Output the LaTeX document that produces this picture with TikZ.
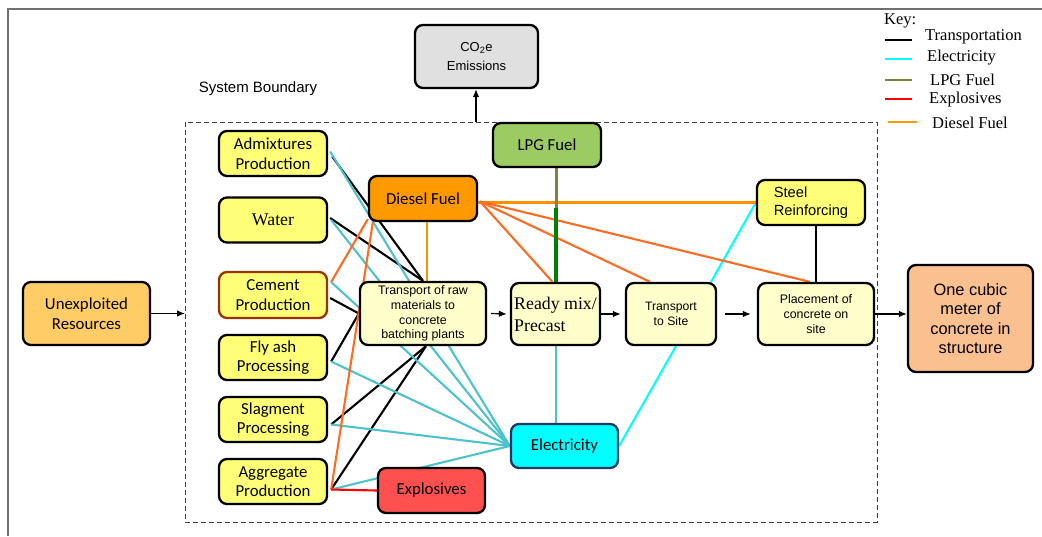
\documentclass[tikz,border=0pt]{standalone}
\usepackage{fontspec}
\setmainfont{Liberation Serif}
\newfontfamily\calib{Carlito}
\newfontfamily\ari{Liberation Sans}
\usetikzlibrary{calc,arrows.meta}
\pgfdeclarelayer{bg}
\pgfsetlayers{bg,main}
\definecolor{rawY}{HTML}{FFFF77}
\definecolor{procY}{HTML}{FFFFCC}
\definecolor{dieselF}{HTML}{FF9900}
\definecolor{lpgF}{HTML}{9BCB62}
\definecolor{explF}{HTML}{FF5050}
\definecolor{co2F}{HTML}{E0E0E0}
\definecolor{unexF}{HTML}{FFCC66}
\definecolor{oneF}{HTML}{FAC090}
\definecolor{navy}{HTML}{1F3864}
\definecolor{brownB}{HTML}{993300}
\definecolor{elecA}{HTML}{4CC3CC}
\definecolor{elecB}{HTML}{00FFFF}
\definecolor{dslA}{HTML}{FF6B1F}
\definecolor{dslB}{HTML}{FF9000}
\definecolor{olive}{HTML}{808040}
\definecolor{lpgG}{HTML}{008000}
\definecolor{frameG}{HTML}{707070}
\tikzset{
  box/.style={draw, line width=2.3pt, rounded corners=8pt, align=center, inner sep=1pt},
  calfont/.style={font=\calib\fontsize{16.8}{19.5}\selectfont},
  arifont/.style={font=\ari\fontsize{12.4}{14.8}\selectfont},
  tnrfont/.style={font=\fontsize{17.8}{22}\selectfont},
  rawbox/.style={box, calfont, fill=rawY, minimum width=108pt, minimum height=45pt},
  tline/.style={line width=2.1pt, black},
  eline/.style={line width=2.1pt, elecA},
  eline2/.style={line width=2.1pt, elecB},
  dline/.style={line width=2.1pt, dslA},
  dline2/.style={line width=2.1pt, dslB},
  arr/.style={line width=1.2pt, -{Latex[length=8pt,width=6.5pt]}},
  keytext/.style={font=\fontsize{16.5}{19}\selectfont, anchor=west, inner sep=0pt},
  keyline/.style={line width=2.6pt}
}
\begin{document}
\begin{tikzpicture}[x=1pt,y=-1pt]
\useasboundingbox (0,0) rectangle (1042,536);
% outer frame
\draw[frameG, line width=1.4pt] (8,536) -- (8,9) -- (1042,9);

% nodes
\node[box, fill=co2F, font=\ari\fontsize{13}{19}\selectfont, minimum width=123pt, minimum height=63pt] (co2) at (476.5,56.5) {CO\textsubscript{2}e\\Emissions};
\node[font=\ari\fontsize{15}{17}\selectfont] (sb) at (258,89) {System Boundary};

\node[box, calfont, fill=lpgF, minimum width=108pt, minimum height=44pt] (lpg) at (547,145) {LPG Fuel};
\node[rawbox] (adm) at (273,153.5) {Admixtures\\Production};
\node[rawbox, tnrfont] (water) at (273,220) {Water};
\node[rawbox, draw=brownB, minimum height=46pt] (cement) at (273,295) {Cement\\Production};
\node[rawbox] (fly) at (273,357.5) {Fly ash\\Processing};
\node[rawbox] (slag) at (273,419.5) {Slagment\\Processing};
\node[rawbox] (agg) at (273,481.5) {Aggregate\\Production};
\node[box, calfont, fill=dieselF, minimum width=108pt, minimum height=45pt] (diesel) at (423,198.5) {Diesel Fuel};
\node[box, arifont, fill=procY, minimum width=126pt, minimum height=63pt] (trans) at (423,313.5) {Transport of raw\\materials to\\concrete\\batching plants};
\node[box, tnrfont, align=left, fill=procY, minimum width=89pt, minimum height=62pt] (ready) at (555.5,314) {Ready mix/\\Precast};
\node[box, font=\ari\fontsize{12.2}{15}\selectfont, fill=procY, minimum width=90pt, minimum height=62pt] (site) at (671,314) {Transport\\to Site};
\node[box, font=\ari\fontsize{14.7}{18.5}\selectfont, align=left, fill=rawY, minimum width=108pt, minimum height=45pt] (steel) at (811,202.5) {Steel\\Reinforcing};
\node[box, arifont, fill=procY, minimum width=116pt, minimum height=62pt] (place) at (816,314) {Placement of\\concrete on\\site};
\node[box, font=\ari\fontsize{16.4}{19.5}\selectfont, fill=oneF, minimum width=125pt, minimum height=107pt] (one) at (970.5,318.5) {One cubic\\meter of\\concrete in\\structure};
\node[box, calfont, fill=unexF, minimum width=127pt, minimum height=63pt] (unexp) at (86.5,313.5) {Unexploited\\Resources};
\node[box, calfont, draw=navy, fill=elecB, minimum width=107pt, minimum height=44pt] (elec) at (564.5,446) {Electricity};
\node[box, calfont, fill=explF, minimum width=107pt, minimum height=45pt] (expl) at (431.5,490.5) {Explosives};

\coordinate (bleft) at (185,313.5);
\coordinate (btop) at (476,122);

\begin{pgfonlayer}{bg}
% system boundary
\draw[line width=0.9pt, black!75, dash pattern=on 5pt off 3pt] (185,122) rectangle (877,522);
% transportation (black)
\draw[tline] ($(adm.east)+(4,3)$) -- (trans.north);
\draw[tline] ($(water.east)+(2,-2)$) -- (trans.north);
\draw[tline] ($(cement.east)+(2,3)$) -- (trans.west);
\draw[tline] ($(fly.east)+(3,4)$) -- (trans.west);
\draw[tline] ($(slag.east)+(3,5)$) -- ($(trans.south)+(3,0)$);
\draw[tline] ($(agg.east)+(3,8)$) -- ($(trans.south)+(3,0)$);
\draw[tline] (place.north |- steel.south) -- (place.north);
% electricity (cyan)
\draw[eline] ($(adm.east)+(2,-2)$) -- (elec.west);
\draw[eline] ($(water.east)+(3,0)$) -- (elec.west);
\draw[eline] ($(cement.east)+(3,-13)$) -- (elec.west);
\draw[eline] ($(fly.east)+(3,4)$) -- (elec.west);
\draw[eline] ($(slag.east)+(3,5)$) -- (elec.west);
\draw[eline] ($(agg.east)+(3,8)$) -- (elec.west);
\draw[eline] ($(ready.south)+(0.5,0)$) -- ($(ready.south |- elec.north)+(0.5,0)$);
\draw[eline2] ($(site.south)+(5,0)$) -- (elec.east);
\draw[eline2] ($(site.north east)+(-6,0)$) -- (steel.west);
% diesel (orange)
\draw[dline2] ($(diesel.south)+(4,0)$) -- ($(trans.north)+(4,0)$);
\draw[dline] ($(diesel.south west)+(0,-3)$) -- ($(cement.east)+(3,-13)$);
\draw[dline] ($(diesel.south west)+(5,0)$) -- ($(agg.east)+(3,8)$);
\draw[dline2] (diesel.east |- steel.west) -- (steel.west);
\draw[dline] ($(diesel.east)+(2,3)$) -- ($(ready.north)+(-3,0)$);
\draw[dline] ($(diesel.east)+(2,3)$) -- ($(site.north)+(-21,0)$);
\draw[dline] ($(diesel.east)+(2,3)$) -- ($(place.north)+(-6,0)$);
% LPG
\draw[olive, line width=3pt] ($(ready.north |- lpg.south)+(0.5,0)$) -- ($(ready.north |- lpg.south)+(0.5,40)$);
\draw[lpgG, line width=4pt] ($(ready.north |- lpg.south)+(0.5,40)$) -- ($(ready.north)+(0.5,0)$);
% explosives
\draw[red, line width=2.1pt] ($(agg.east)+(3,8)$) -- (expl.west);
\end{pgfonlayer}

% flow arrows
\draw[arr] (unexp.east) -- (bleft);
\draw[arr] ($(trans.east)+(4,0)$) -- ($(ready.west)+(-3,0)$);
\draw[arr] (ready.east) -- ($(site.west)+(-4,0)$);
\draw[arr] ($(site.east)+(8,0)$) -- ($(place.west)+(-6,0)$);
\draw[arr] (place.east) -- (place.east -| one.west);
\draw[arr] (btop) -- (btop |- co2.south);

% key
\node[font=\fontsize{16.5}{19}\selectfont, anchor=north west, inner sep=0pt] (key) at (884,13) {Key:};
\coordinate (k1a) at (885,40); \coordinate (k1b) at (912,40);
\coordinate (k2a) at (885,59); \coordinate (k2b) at (912,59);
\coordinate (k3a) at (885,80); \coordinate (k3b) at (912,80);
\coordinate (k4a) at (885,99); \coordinate (k4b) at (912,99);
\coordinate (k5a) at (888,122); \coordinate (k5b) at (917,122);
\draw[keyline, black] (k1a) -- (k1b);
\draw[keyline, elecB] (k2a) -- (k2b);
\draw[keyline, olive] (k3a) -- (k3b);
\draw[keyline, red] (k4a) -- (k4b);
\draw[keyline, dieselF] (k5a) -- (k5b);
\node[keytext] (kt1) at (925,37) {Transportation};
\node[keytext] (kt2) at (927,58) {Electricity};
\node[keytext] (kt3) at (930,80) {LPG Fuel};
\node[keytext] (kt4) at (929,100) {Explosives};
\node[keytext] (kt5) at (932,123) {Diesel Fuel};
\end{tikzpicture}
\end{document}
